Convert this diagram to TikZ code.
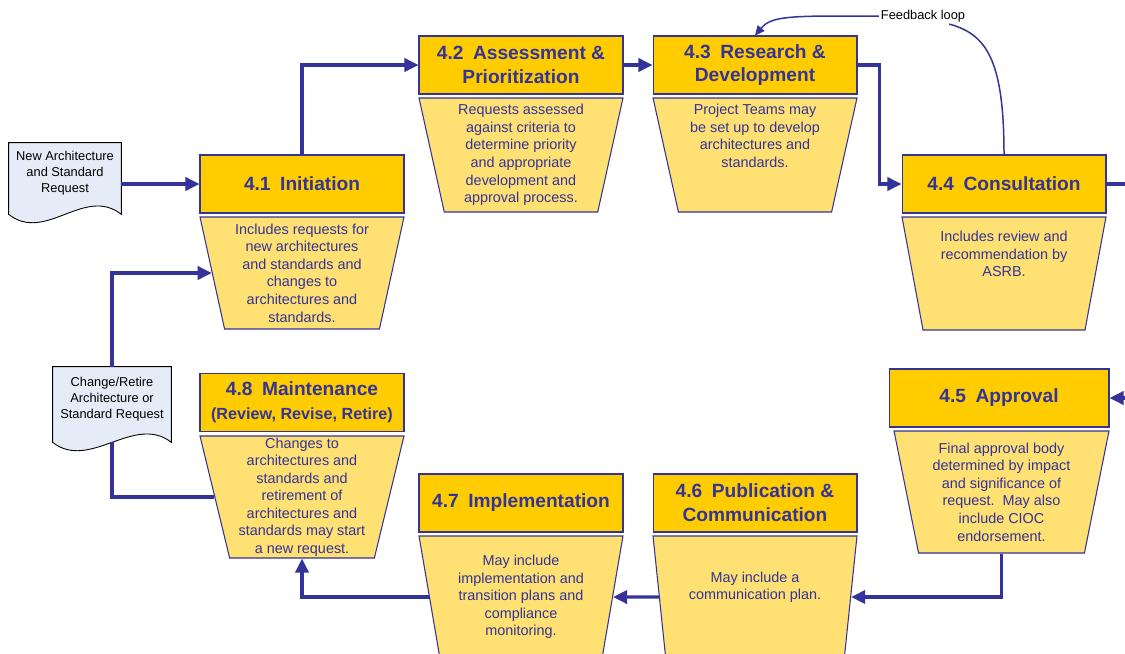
\documentclass[tikz,border=0pt]{standalone}
\usepackage{fontspec}
\setmainfont{Liberation Sans}
\usetikzlibrary{shapes.geometric,arrows.meta,backgrounds}
\definecolor{ink}{HTML}{333399}
\definecolor{gold}{HTML}{FFCC00}
\definecolor{pale}{HTML}{FFE072}
\definecolor{paper}{HTML}{E6ECF7}
\begin{document}
\begin{tikzpicture}[x=0.02cm,y=-0.02cm,
  head/.style={draw=ink,fill=gold,line width=0.6pt,minimum width=4.08cm,minimum height=1.16cm,
    inner sep=0pt,align=center,text=ink,font=\fontsize{10.9}{13.6}\selectfont\bfseries},
  cup/.style={trapezium,shape border rotate=180,trapezium angle=76,trapezium stretches body,
    draw=ink,fill=pale,line width=0.6pt,minimum width=4.08cm,inner sep=0pt,align=center,
    text=ink,font=\fontsize{8.2}{10}\selectfont},
  doc/.style={minimum width=2.24cm,inner sep=0pt,align=center,text depth=8pt,
    font=\fontsize{7.3}{9.1}\selectfont},
  sheet/.style={draw=black,fill=paper,line width=0.5pt},
  flow/.style={ink,line width=1.8pt,-{Triangle[length=8pt,width=7.5pt]}},
  loopline/.style={ink,line width=0.85pt}]
\useasboundingbox (0,0) rectangle (1125,653);
\clip (0,0) rectangle (1125,653);
%\draw[step=50,lightgray,very thin] (0,0) grid (1125,653);

% top row
\node[head] (h41) at (302,184) {4.1\enspace Initiation};
\node[cup,minimum height=2.24cm] (t41) at (302,273) {Includes requests for\\new architectures\\and standards and\\changes to\\architectures and\\standards.};
\node[head] (h42) at (521,65) {4.2\enspace Assessment \&\\Prioritization};
\node[cup,minimum height=2.28cm] (t42) at (521,155) {Requests assessed\\against criteria to\\determine priority\\and appropriate\\development and\\approval process.};
\node[head] (h43) at (755,65) {4.3\enspace Research \&\\Development};
\node[cup,minimum height=2.28cm,text depth=22pt] (t43) at (755,155) {Project Teams may\\be set up to develop\\architectures and\\standards.};
\node[head] (h44) at (1004,184) {4.4\enspace Consultation};
\node[cup,minimum height=2.26cm,text depth=22pt] (t44) at (1004,273.5) {Includes review and\\recommendation by\\ASRB.};

% bottom row
\node[head,minimum width=4.4cm] (h45) at (999,398) {4.5\enspace Approval};
\node[cup,minimum width=4.3cm,minimum height=2.44cm] (t45) at (1001.5,492) {Final approval body\\determined by impact\\and significance of\\request.\ \ May also\\include CIOC\\endorsement.};
\node[head] (h46) at (755,503) {4.6\enspace Publication \&\\Communication};
\node[cup,minimum height=2.44cm,text depth=13pt] (t46) at (755,597) {May include a\\communication plan.};
\node[head] (h47) at (521,503) {4.7\enspace Implementation};
\node[cup,minimum height=2.44cm] (t47) at (521,597) {May include\\implementation and\\transition plans and\\compliance\\monitoring.};
\node[head] (h48) at (302,402.5) {4.8\enspace Maintenance\\{\fontsize{9.2}{11}\selectfont(Review, Revise, Retire)}};
\node[cup,minimum height=2.44cm] (t48) at (302,497) {Changes to\\architectures and\\standards and\\retirement of\\architectures and\\standards may start\\a new request.};

% requests
\node[doc,minimum height=1.42cm] (doc1) at (65,178.5) {New Architecture\\and Standard\\Request};
\node[doc,minimum width=2.36cm,minimum height=1.5cm] (doc2) at (112,404.5) {Change/Retire\\Architecture or\\Standard Request};
\begin{scope}[on background layer]
\foreach \d in {doc1,doc2}
  \draw[sheet] (\d.south west) -- (\d.north west) -- (\d.north east) -- (\d.south east)
    .. controls +(-37,-29) and +(37,29) .. (\d.south west) -- cycle;
\end{scope}

\node[font=\fontsize{7.3}{9.1}\selectfont,inner sep=1pt] (fb) at (923,16) {Feedback loop};
\coordinate (rim) at (1130,0);

\draw[flow] (doc1.east |- h41.west) -- (h41.west);
\draw[flow] (h41.north) |- (h42.west);
\draw[flow] (h42.east) -- (h43.west);
\draw[flow] (h43.east) -- ++(22,0) |- (h44.west);
\draw[flow,-] (h44.east) -- (h44.east -| rim);
\draw[flow] (h45.east -| rim) -- (h45.east);
\draw[flow] (t45.south) |- (t46.east);
\draw[flow] (t46.west) -- (t47.east);
\draw[flow] (t47.west) -| (t48.south);
\draw[flow,-] (t48.west) -| (doc2.south);
\draw[flow] (doc2.north) |- (t41.west);

\draw[loopline] (h44.north) .. controls +(0,-95) and +(37,10) .. ([xshift=-0.36cm]fb.south east);
\draw[loopline,-{Triangle[length=5.5pt,width=5pt]}] (fb.west) -- ++(-38,0)
  .. controls +(-55,0) and +(15,-18) .. (h43.north);
\end{tikzpicture}
\end{document}
